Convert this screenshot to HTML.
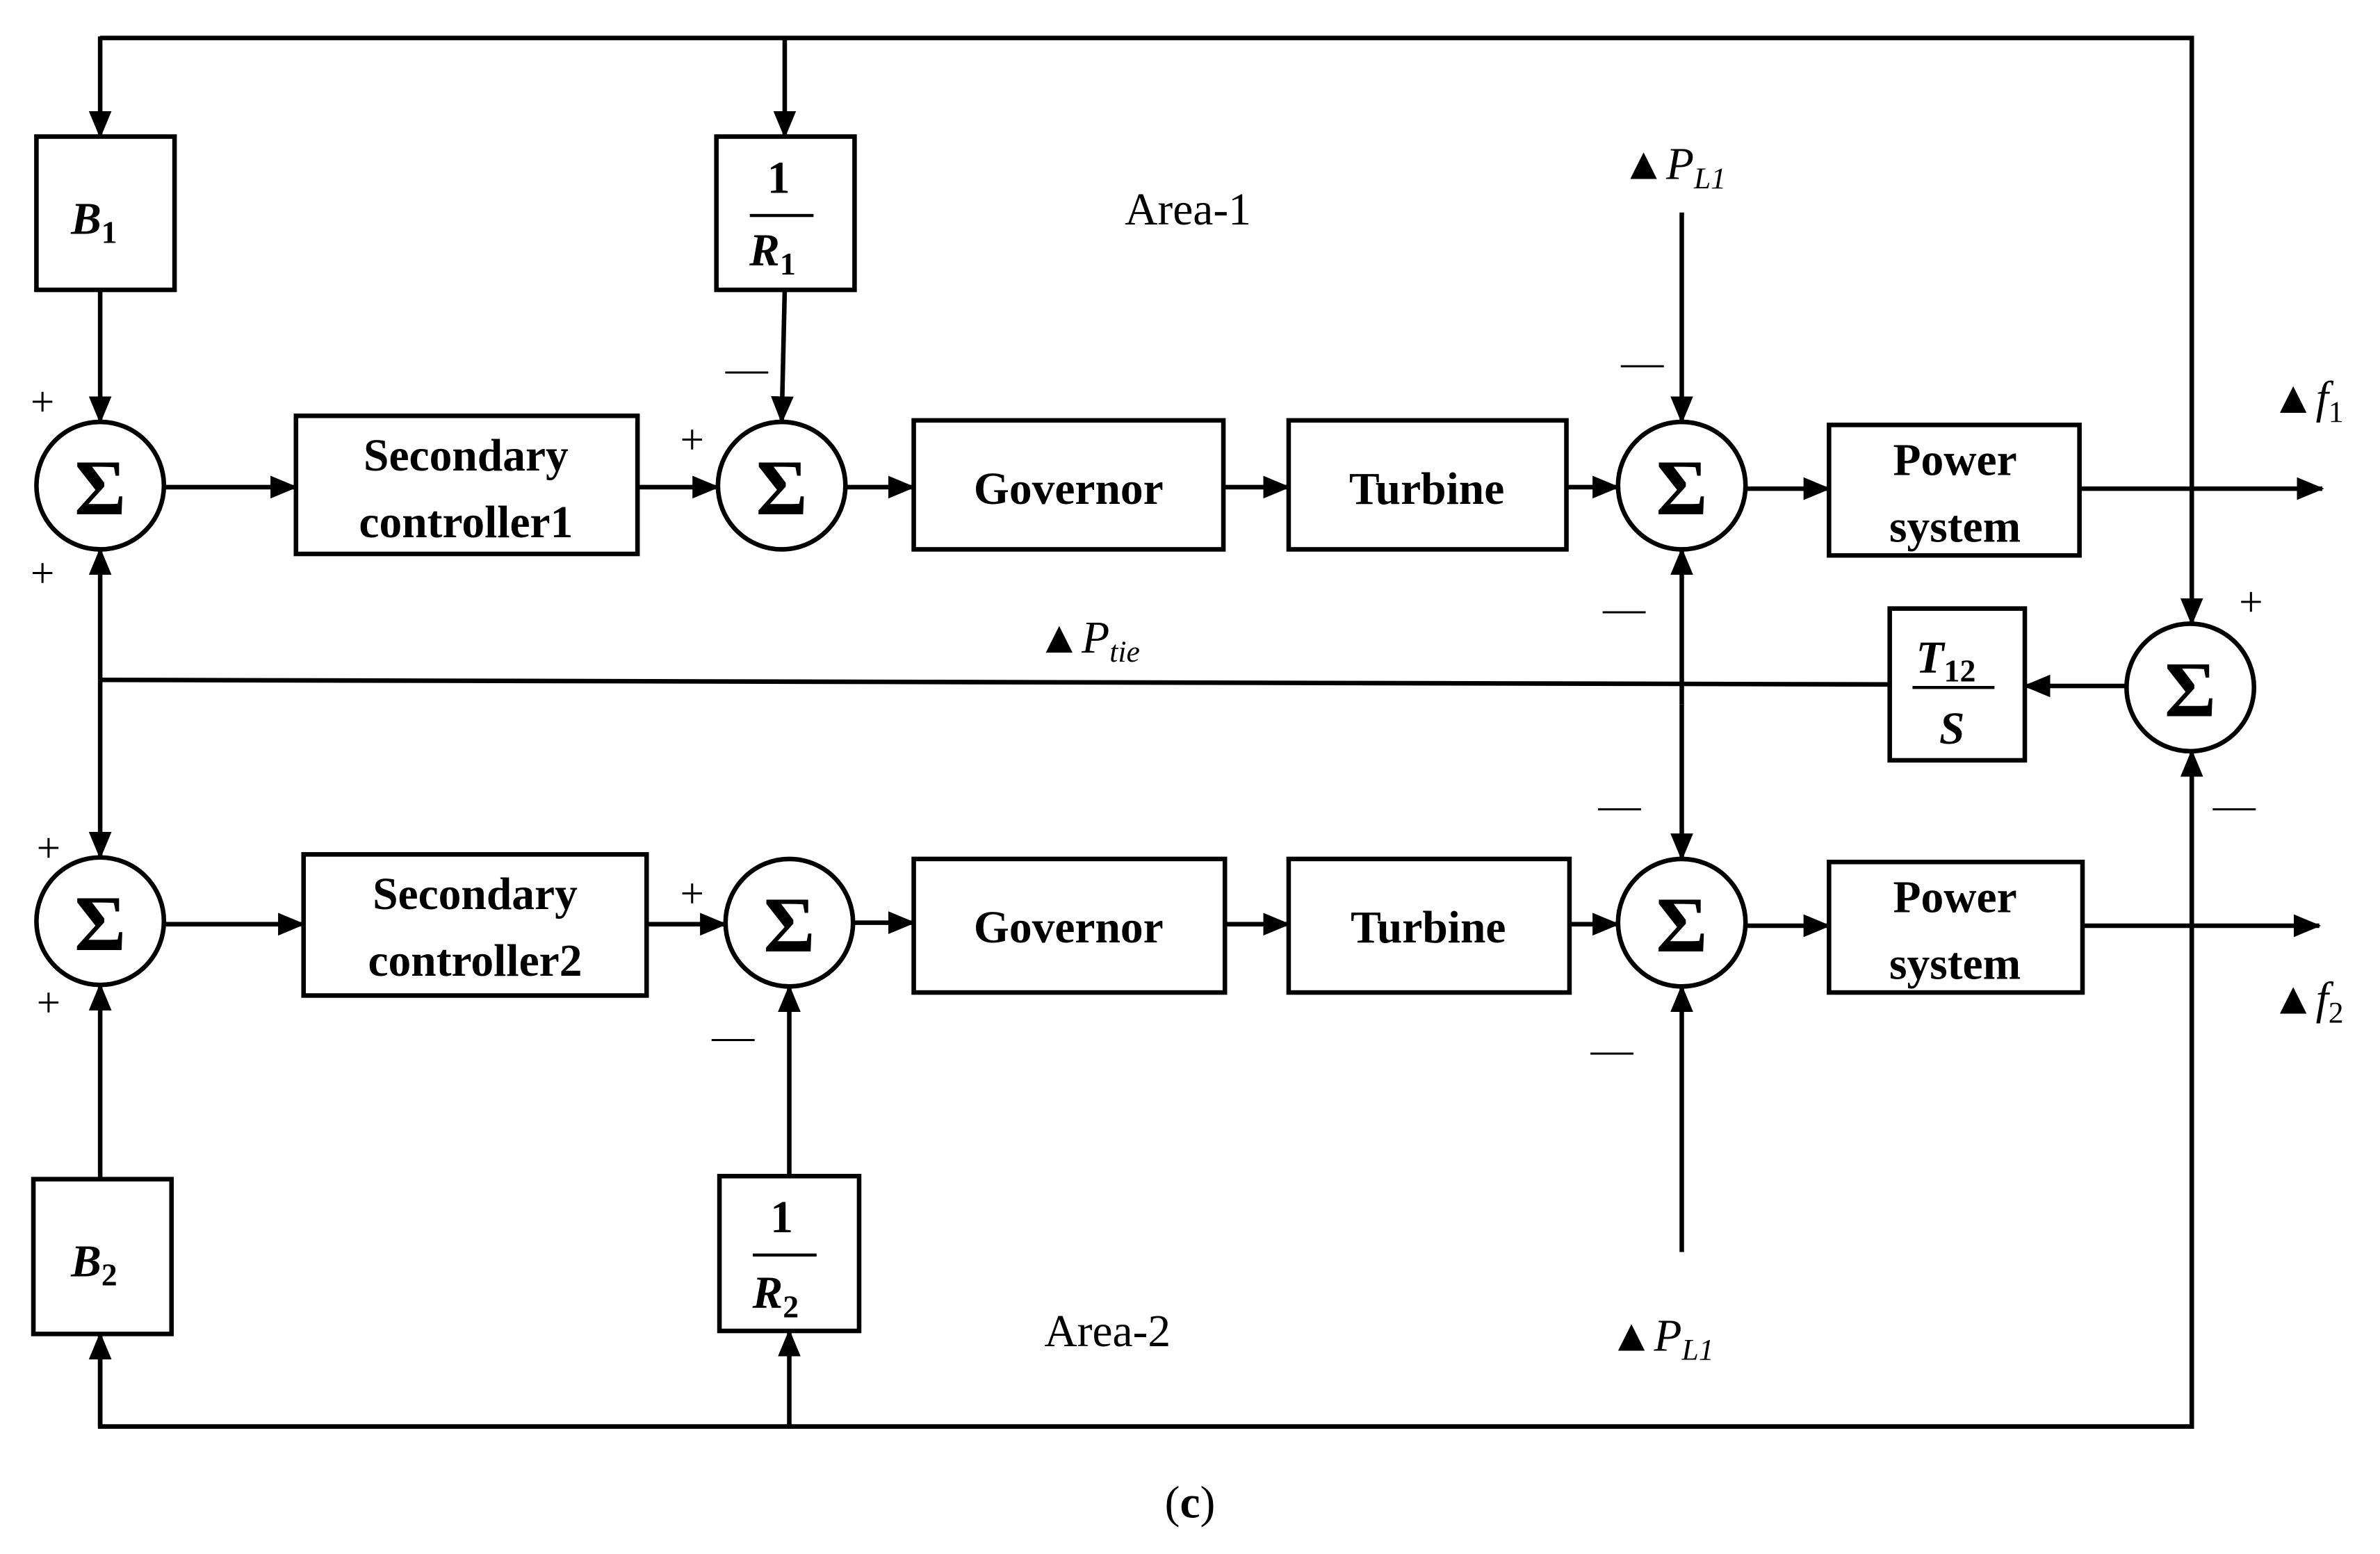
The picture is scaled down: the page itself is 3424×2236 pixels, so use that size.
<!DOCTYPE html>
<html><head><meta charset="utf-8"><style>
html,body{margin:0;padding:0;background:#fff;}
svg{display:block;}
text{font-family:"Liberation Serif",serif;fill:#000;}
.b{font-weight:bold;font-size:30px;}
.sig{font-family:"DejaVu Sans","Liberation Sans",sans-serif;font-weight:bold;font-size:52px;}
.s{font-size:28px;}
</style></head><body>
<svg width="3424" height="2236" viewBox="0 0 1568 1024" preserveAspectRatio="none" xmlns="http://www.w3.org/2000/svg">
<defs>
<marker id="a" markerWidth="6" markerHeight="5" refX="5.6" refY="2.5" orient="auto" markerUnits="strokeWidth"><path d="M0,0 L6,2.5 L0,5 Z" fill="#000"/></marker>
</defs>
<g stroke="#000" stroke-width="3" fill="none">
<polyline points="66,25 1444,25 1444,411" marker-end="url(#a)"/>
<line x1="66" y1="24" x2="66" y2="90" marker-end="url(#a)"/>
<line x1="517" y1="25" x2="517" y2="90" marker-end="url(#a)"/>
<rect x="24" y="90" width="91" height="101"/>
<rect x="472" y="90" width="91" height="101"/>
<rect x="195" y="274" width="225" height="91"/>
<rect x="602" y="277" width="204" height="85"/>
<rect x="849" y="277" width="183" height="85"/>
<rect x="1205" y="280" width="165" height="86"/>
<rect x="1245" y="401" width="89" height="100"/>
<rect x="200" y="563" width="226" height="93"/>
<rect x="602" y="566" width="205" height="88"/>
<rect x="849" y="566" width="185" height="88"/>
<rect x="1205" y="568" width="167" height="86"/>
<rect x="22" y="777" width="91" height="102"/>
<rect x="474" y="775" width="92" height="102"/>
<ellipse cx="66" cy="320" rx="42" ry="42"/>
<ellipse cx="515" cy="320" rx="42" ry="42"/>
<ellipse cx="1108" cy="320" rx="42" ry="42"/>
<ellipse cx="1443" cy="453" rx="42" ry="42"/>
<ellipse cx="66" cy="607" rx="42" ry="42"/>
<ellipse cx="520" cy="608" rx="42" ry="42"/>
<ellipse cx="1108" cy="608" rx="42" ry="42"/>
<line x1="66" y1="191" x2="66" y2="278" marker-end="url(#a)"/>
<line x1="517" y1="191" x2="515" y2="278" marker-end="url(#a)"/>
<line x1="108" y1="321" x2="195" y2="321" marker-end="url(#a)"/>
<line x1="420" y1="321" x2="473" y2="321" marker-end="url(#a)"/>
<line x1="557" y1="321" x2="602" y2="321" marker-end="url(#a)"/>
<line x1="806" y1="321" x2="849" y2="321" marker-end="url(#a)"/>
<line x1="1032" y1="321" x2="1066" y2="321" marker-end="url(#a)"/>
<line x1="1150" y1="322" x2="1205" y2="322" marker-end="url(#a)"/>
<line x1="1370" y1="322" x2="1530" y2="322" marker-end="url(#a)"/>
<line x1="1108" y1="140" x2="1108" y2="278" marker-end="url(#a)"/>
<line x1="1401" y1="452" x2="1334" y2="452" marker-end="url(#a)"/>
<line x1="1245" y1="451" x2="66" y2="448"/>
<line x1="66" y1="448" x2="66" y2="362" marker-end="url(#a)"/>
<line x1="66" y1="448" x2="66" y2="565" marker-end="url(#a)"/>
<line x1="1108" y1="464" x2="1108" y2="362" marker-end="url(#a)"/>
<line x1="1108" y1="464" x2="1108" y2="566" marker-end="url(#a)"/>
<line x1="108" y1="609" x2="200" y2="609" marker-end="url(#a)"/>
<line x1="426" y1="609" x2="478" y2="609" marker-end="url(#a)"/>
<line x1="562" y1="608" x2="602" y2="608" marker-end="url(#a)"/>
<line x1="807" y1="609" x2="849" y2="609" marker-end="url(#a)"/>
<line x1="1034" y1="609" x2="1066" y2="609" marker-end="url(#a)"/>
<line x1="1150" y1="610" x2="1205" y2="610" marker-end="url(#a)"/>
<line x1="1372" y1="610" x2="1528" y2="610" marker-end="url(#a)"/>
<line x1="66" y1="777" x2="66" y2="649" marker-end="url(#a)"/>
<line x1="520" y1="775" x2="520" y2="650" marker-end="url(#a)"/>
<line x1="1108" y1="825" x2="1108" y2="650" marker-end="url(#a)"/>
<polyline points="66,879 66,940 1444,940 1444,495" />
<line x1="66" y1="940" x2="66" y2="879" marker-end="url(#a)"/>
<line x1="520" y1="940" x2="520" y2="877" marker-end="url(#a)"/>
<line x1="1444" y1="940" x2="1444" y2="495" marker-end="url(#a)"/>
<line x1="494" y1="142" x2="536" y2="142" stroke-width="2"/>
<line x1="496" y1="827" x2="538" y2="827" stroke-width="2"/>
<line x1="1260" y1="453" x2="1314" y2="453" stroke-width="2"/>
</g>
<g class="sig" text-anchor="middle">
<text x="66" y="339">Σ</text><text x="515" y="339">Σ</text><text x="1108" y="339">Σ</text>
<text x="1443" y="472">Σ</text><text x="66" y="626">Σ</text><text x="520" y="627">Σ</text><text x="1108" y="627">Σ</text>
</g>
<g class="b" text-anchor="middle">
<text x="307" y="310">Secondary</text><text x="307" y="354">controller1</text>
<text x="704" y="332">Governor</text><text x="940" y="332">Turbine</text>
<text x="1288" y="313">Power</text><text x="1288" y="357">system</text>
<text x="313" y="599">Secondary</text><text x="313" y="643">controller2</text>
<text x="704" y="621">Governor</text><text x="941" y="621">Turbine</text>
<text x="1288" y="601">Power</text><text x="1288" y="645">system</text>
<text x="513" y="127">1</text><text x="515" y="812">1</text>
</g>
<g font-weight="bold" font-style="italic" font-size="30" text-anchor="middle">
<text x="62" y="154">B<tspan font-size="21" dy="6" font-style="normal">1</tspan></text>
<text x="62" y="841">B<tspan font-size="21" dy="6" font-style="normal">2</tspan></text>
<text x="509" y="175">R<tspan font-size="21" dy="6" font-style="normal">1</tspan></text>
<text x="511" y="862">R<tspan font-size="21" dy="6" font-style="normal">2</tspan></text>
<text x="1282" y="443">T<tspan font-size="21" dy="6" font-style="normal">12</tspan></text>
<text x="1286" y="490">S</text>
</g>
<g class="s" text-anchor="middle">
<text x="28" y="274">+</text><text x="28" y="387">+</text><text x="456" y="299">+</text>
<text x="1483" y="406">+</text><text x="32" y="568">+</text><text x="32" y="670">+</text><text x="456" y="598">+</text>
<text x="492" y="252">—</text><text x="1082" y="248">—</text><text x="1070" y="410">—</text>
<text x="1472" y="540">—</text><text x="1067" y="540">—</text><text x="483" y="692">—</text><text x="1062" y="701">—</text>
</g>
<g font-size="30">
<text x="741" y="148">Area-1</text><text x="688" y="887">Area-2</text>
<text x="1068" y="118">▲<tspan font-style="italic">P</tspan><tspan font-size="20" font-style="italic" dy="6">L1</tspan></text>
<text x="1060" y="890">▲<tspan font-style="italic">P</tspan><tspan font-size="20" font-style="italic" dy="6">L1</tspan></text>
<text x="683" y="430">▲<tspan font-style="italic">P</tspan><tspan font-size="20" font-style="italic" dy="6">tie</tspan></text>
<text x="1496" y="272">▲<tspan font-style="italic">f</tspan><tspan font-size="20" dy="6">1</tspan></text>
<text x="1496" y="668">▲<tspan font-style="italic">f</tspan><tspan font-size="20" dy="6">2</tspan></text>
<text x="784" y="1000" text-anchor="middle">(<tspan font-weight="bold">c</tspan>)</text>
</g>
</svg>
</body></html>
